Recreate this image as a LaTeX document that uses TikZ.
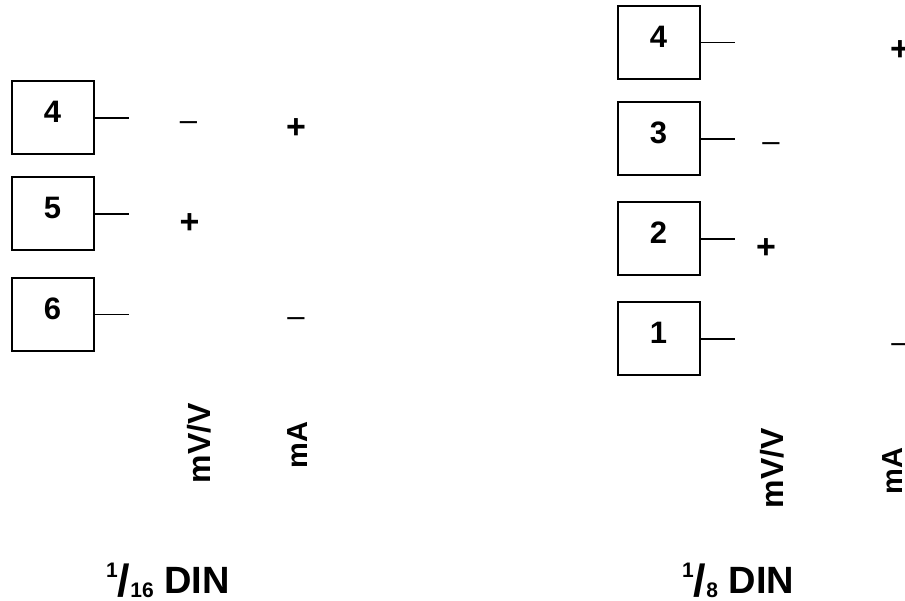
\documentclass[tikz,border=0pt]{standalone}
\usepackage{fontspec}
\setmainfont{Liberation Sans}
\usepackage{tikz}
\usetikzlibrary{calc}
\tikzset{x=1pt, y=-1pt,
	pin box/.style={draw=black, line width=2pt, minimum width=82pt,
		minimum height=73pt, inner sep=0pt, text height=22pt, text depth=12pt,
		font=\fontsize{31}{31}\selectfont\bfseries},
	pin lead/.style={draw=black, line width=1.6pt},
	plus sign/.style={inner sep=0pt, yshift=-2pt,
		font=\fontsize{34}{34}\selectfont\bfseries},
	minus sign/.style={inner sep=0pt, yshift=-5pt,
		font=\fontsize{31}{31}\selectfont},
	unit label/.style={rotate=90, inner sep=0pt,
		font=\fontsize{32}{32}\selectfont\bfseries},
	din label/.style={anchor=base west, inner sep=0pt,
		font=\fontsize{38}{38}\selectfont\bfseries}
}
\def\Pin#1#2#3#4{%
	\node[pin box] (box#1) at (#2,#3) {#4};
	\coordinate (lead#1) at ($(box#1.east)+(34,0)$);
	\draw[pin lead] (box#1.east) -- (lead#1);
}
\def\Din#1{%
	\raisebox{16pt}{\fontsize{21}{21}\selectfont 1}%
	\raisebox{-3pt}{\fontsize{45}{45}\selectfont /}%
	\raisebox{-4pt}{\fontsize{21}{21}\selectfont #1} DIN%
}

\begin{document}
\begin{tikzpicture}
\useasboundingbox (0,0) rectangle (905,601);
\Pin{L4}{52.5}{118}{4}
\Pin{L5}{52.5}{214}{5}
\Pin{L6}{52.5}{314.5}{6}
\node[minus sign] (minusL4) at (188.5,121) {\textendash};
\node[plus sign] (plusL4) at (296,127) {+};
\node[plus sign] (plusL5) at (189.5,222) {+};
\node[minus sign] (minusL6) at (296,317) {\textendash};
\node[unit label] (mvL) at (199,443) {mV/V};
\node[unit label, font=\fontsize{29}{29}\selectfont\bfseries] (maL) at (298,445) {mA};
\node[din label] (dinL) at (106,593) {\Din{16}};

\Pin{R4}{658.5}{42.5}{4}
\Pin{R3}{658.5}{139}{3}
\Pin{R2}{658.5}{239}{2}
\Pin{R1}{658.5}{339}{1}
\node[plus sign] (plusR4) at (900,49) {+};
\node[minus sign] (minusR3) at (771,142) {\textendash};
\node[plus sign] (plusR2) at (766,247) {+};
\node[minus sign] (minusR1) at (900,343) {\textendash};
\node[unit label] (mvR) at (772.5,468) {mV/V};
\node[unit label, font=\fontsize{29}{29}\selectfont\bfseries] (maR) at (893,471) {mA};
\node[din label] (dinR) at (682,593) {\Din{8}};

\end{tikzpicture}
\end{document}
